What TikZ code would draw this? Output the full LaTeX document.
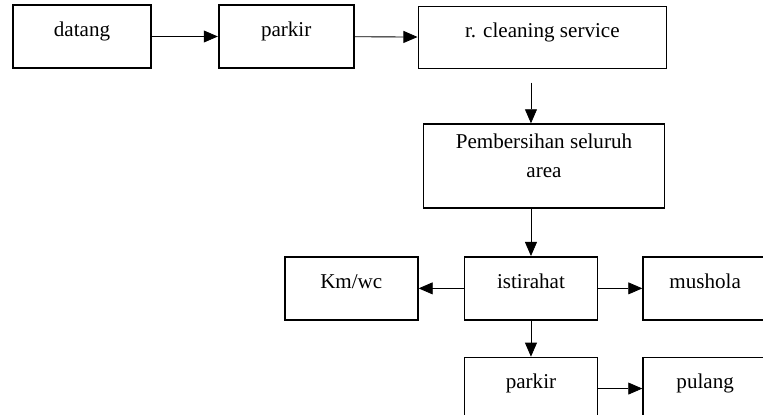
\documentclass[tikz,border=0pt]{standalone}
\usepackage{fontspec}
\setmainfont{Liberation Serif}
\usepackage{tikz}
\usetikzlibrary{arrows.meta,positioning}
\tikzset{
  % Base box
  BX/.style={rectangle,draw,line width=1.2pt,
             minimum width=3.325cm,minimum height=1.575cm,
             text centered,align=center,inner sep=0pt,
             font=\fontsize{15}{21}\selectfont,
             text height=10.5pt,text depth=10.5pt},
  % Arrow
  arr/.style={-{Triangle[length=10pt,width=8.5pt]},line width=0.6pt}
}

\begin{document}
\begin{tikzpicture}
  \useasboundingbox (0,0) rectangle (19.075,-10.375);

  %------ ROW 1: ARRIVAL ------
  \node[BX,minimum width=3.45cm] (datang) at (2.05,-0.9125) {datang};
  \node[BX,minimum width=3.375cm,right=1.65cm of datang] (parkirA) {parkir};
  \node[BX,minimum width=6.2cm,minimum height=1.55cm,right=1.575cm of parkirA,yshift=-0.025cm] (clean) {r. cleaning service};

  %------ CLEANING ------
  \node[BX,minimum width=6.025cm,minimum height=2.1cm,text height=27pt,
        below=1.35cm of clean,xshift=0.04cm] (bersih) {Pembersihan seluruh\\area};

  %------ REST ------
  \node[BX,below=1.175cm of bersih,xshift=-0.325cm] (istirahat) {istirahat};
  \node[BX,left=1.125cm of istirahat] (kmwc) {Km/wc};
  \node[BX,minimum width=3.1cm,right=1.1cm of istirahat] (mushola) {mushola};

  %------ LEAVING ------
  \node[BX,minimum height=1.55cm,below=0.9cm of istirahat] (parkirB) {parkir};
  \node[BX,minimum width=3.1cm,minimum height=1.55cm,right=1.1cm of parkirB] (pulang) {pulang};

  % arrows
  \draw[arr](datang)--(parkirA);
  \draw[arr](parkirA)--(clean);
  \draw[arr,shorten <=0.33cm](clean.south -| istirahat)--(bersih.north -| istirahat);
  \draw[arr](bersih.south -| istirahat)--(istirahat);
  \draw[arr](istirahat)--(kmwc);
  \draw[arr](istirahat)--(mushola);
  \draw[arr](istirahat)--(parkirB);
  \draw[arr](parkirB)--(pulang);
\end{tikzpicture}
\end{document}
